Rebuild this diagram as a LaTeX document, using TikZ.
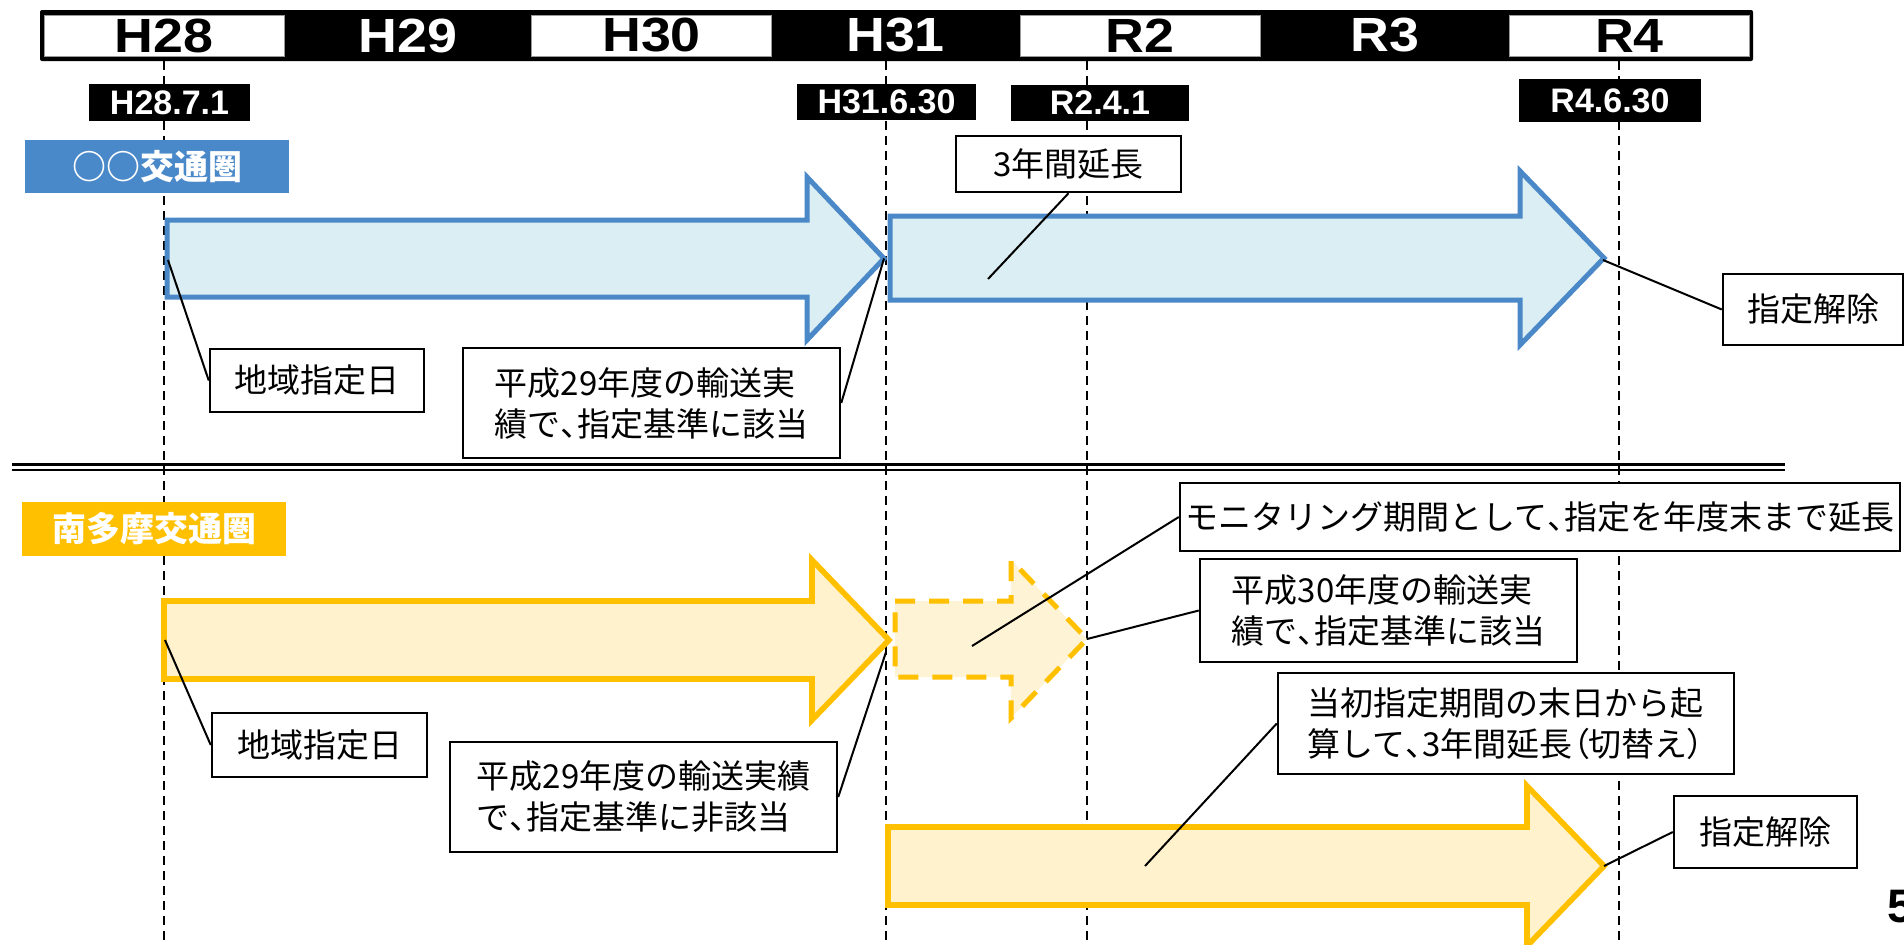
\documentclass[tikz,border=0pt]{standalone}
\usepackage{fontspec}
\setmainfont{Liberation Sans}
\newfontfamily\jp{Noto Sans CJK JP}
\newfontfamily\yearfont{Liberation Sans}[FakeStretch=1.12]
\newcommand\hw[1]{{\addfontfeatures{RawFeature=+palt}#1}}
\definecolor{blueline}{HTML}{4A88C7}
\definecolor{bluefill}{HTML}{DAEEF3}
\definecolor{bluelabel}{HTML}{4A89C9}
\definecolor{yelline}{HTML}{FFC000}
\definecolor{yelfill}{HTML}{FFF2CC}
\definecolor{yelfilllight}{HTML}{FFF3D6}
\newcommand\blkarrow[7]{%
  \draw[#1] (#2,{#5-#6}) -- (#3,{#5-#6}) -- (#3,{#5-#7}) -- (#4,#5) -- (#3,{#5+#7}) -- (#3,{#5+#6}) -- (#2,{#5+#6}) -- cycle;}
\tikzset{
  yw/.style={fill=white, draw=black!40, line width=0.4pt, minimum width=120pt, minimum height=20.5pt, inner sep=0pt, text=black, font=\yearfont\bfseries\fontsize{24}{24}\selectfont},
  yb/.style={minimum width=120pt, minimum height=20.5pt, inner sep=0pt, text=white, font=\yearfont\bfseries\fontsize{24}{24}\selectfont},
  datebox/.style={fill=black, text=white, inner sep=0pt, font=\bfseries\fontsize{17}{17}\selectfont},
  callout/.style={draw=black, line width=1.25pt, fill=white, inner sep=0pt, align=left, font=\jp\fontsize{16.5}{20.5}\selectfont},
  region/.style={inner sep=0pt, text=white, minimum width=132pt, font=\jp\bfseries\fontsize{17}{17}\selectfont},
  ld/.style={line width=1pt, black},
  vd/.style={line width=0.75pt, black, dash pattern=on 4.5pt off 3pt},
  barrow/.style={draw=blueline, fill=bluefill, line width=2.5pt},
  yarrow/.style={draw=yelline, fill=yelfill, line width=2.8pt},
  ydarrow/.style={draw=yelline, fill=yelfilllight, line width=2.5pt, dash pattern=on 10pt off 7pt}
}
\begin{document}
\begin{tikzpicture}[x=0.5pt,y=-0.5pt]
\useasboundingbox (0,0) rectangle (1904,944);
\fill[white] (0,0) rectangle (1904,944);

% vertical dashed guide lines
\coordinate (v1t) at (164,61);  \coordinate (v1b) at (164,944);
\coordinate (v2t) at (886,61);  \coordinate (v2b) at (886,944);
\coordinate (v3t) at (1087,61); \coordinate (v3b) at (1087,944);
\coordinate (v4t) at (1619,61); \coordinate (v4b) at (1619,944);
\draw[vd] (v1t) -- (v1b);
\draw[vd] (v2t) -- (v2b);
\draw[vd] (v3t) -- (v3b);
\draw[vd] (v4t) -- (v4b);

% separator
\coordinate (s1a) at (12,464.5); \coordinate (s1b) at (1785,464.5);
\coordinate (s2a) at (12,470);   \coordinate (s2b) at (1785,470);
\draw[line width=1.1pt] (s1a) -- (s1b);
\draw[line width=1.4pt] (s2a) -- (s2b);

% arrows
\blkarrow{barrow}{167}{807}{884}{258.5}{38.5}{81.5}
\blkarrow{barrow}{890}{1520}{1604}{258}{42}{87}
\blkarrow{yarrow}{164}{812}{889}{640}{39}{80}
\blkarrow{ydarrow}{895}{1011}{1087}{639}{38}{79}
\blkarrow{yarrow}{888}{1527}{1604}{866}{39}{80}

\coordinate (aL1) at (168,260);
\coordinate (tA1) at (884,258.5);
\coordinate (p3) at (988,279);
\coordinate (tA2) at (1603,260);
\coordinate (aL3) at (165,640);
\coordinate (p6) at (886,652);
\coordinate (p7) at (972,646);
\coordinate (tD) at (1087,639);
\coordinate (p9) at (1145,866);
\coordinate (tA3) at (1604,866);

% callout boxes
\node[callout, minimum width=107pt, minimum height=31.5pt] (c1) at (317,380.5) {地域指定日};
\node[callout, minimum width=188.5pt, minimum height=55pt] (c2) at (651.5,403) {平成29年度の輸送実\\績で\hw{、}指定基準に該当};
\node[callout, minimum width=112.5pt, minimum height=28pt] (c3) at (1068.5,164) {3年間延長};
\node[callout, minimum width=90pt, minimum height=35.5pt] (c4) at (1813,309.5) {指定解除};
\node[callout, minimum width=107.5pt, minimum height=32pt] (c5) at (319.5,745) {地域指定日};
\node[callout, minimum width=193.5pt, minimum height=55pt] (c6) at (643.5,797) {平成29年度の輸送実績\\で\hw{、}指定基準に非該当};
\node[callout, minimum width=360pt, minimum height=34pt] (c7) at (1540,517) {モニタリング期間として\hw{、}指定を年度末まで延長};
\node[callout, minimum width=188.5pt, minimum height=51.5pt] (c8) at (1388.5,610.5) {平成30年度の輸送実\\績で\hw{、}指定基準に該当};
\node[callout, minimum width=228pt, minimum height=50.5pt] (c9) at (1506,723.5) {当初指定期間の末日から起\\算して\hw{、}3年間延長\hw{（}切替え\hw{）}};
\node[callout, minimum width=91.5pt, minimum height=36pt] (c10) at (1765.5,832) {指定解除};

% leaders
\draw[ld] (c1.west) -- (aL1);
\draw[ld] (c2.east) -- (tA1);
\draw[ld] (c3.south) -- (p3);
\draw[ld] (c4.west) -- (tA2);
\draw[ld] (c5.west) -- (aL3);
\draw[ld] (c6.east) -- (p6);
\draw[ld] (c7.west) -- (p7);
\draw[ld] (c8.west) -- (tD);
\draw[ld] (c9.west) -- (p9);
\draw[ld] (c10.west) -- (tA3);

% region labels
\node[region, fill=bluelabel, minimum height=26.5pt] (rb) at (157,166.5) {○○交通圏};
\node[region, fill=yelline, minimum height=27pt] (ry) at (154,529) {南多摩交通圏};

% timeline bar
\fill[black, rounded corners=1pt] (40,10) rectangle (1753,61);
\node[yw] (yH28) at (164,35.5) {H28};
\node[yb] (yH29) at (408,35.5) {H29};
\node[yw] (yH30) at (651.5,35.5) {H30};
\node[yb] (yH31) at (895.5,35.5) {H31};
\node[yw] (yR2) at (1140,35.5) {R2};
\node[yb] (yR3) at (1385,35.5) {R3};
\node[yw] (yR4) at (1629.5,35.5) {R4};

% date labels
\node[datebox, minimum width=80.5pt, minimum height=18.5pt] (d1) at (169.5,102.5) {H28.7.1};
\node[datebox, minimum width=89.5pt, minimum height=18pt] (d2) at (886.5,102) {H31.6.30};
\node[datebox, minimum width=89pt, minimum height=18pt] (d3) at (1100,103) {R2.4.1};
\node[datebox, minimum width=91pt, minimum height=21.5pt] (d4) at (1610,100.5) {R4.6.30};

% page number
\node[inner sep=0pt, anchor=base west, font=\bfseries\fontsize{23.5}{23.5}\selectfont] (pg) at (1887,922) {5};
\end{tikzpicture}
\end{document}
